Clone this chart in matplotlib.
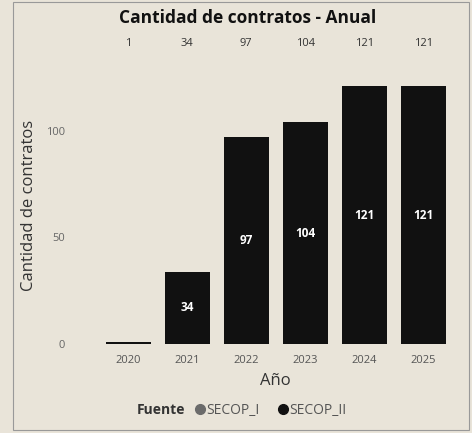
import matplotlib.pyplot as plt
from matplotlib.lines import Line2D
from matplotlib.patches import Rectangle
import numpy as np

# Datos del gráfico
anios = ['2020', '2021', '2022', '2023', '2024', '2025']
secop_i = [0, 0, 0, 0, 0, 0]
secop_ii = [1, 34, 97, 104, 121, 121]
totales = [a + b for a, b in zip(secop_i, secop_ii)]
fuentes = ['SECOP_I', 'SECOP_II']
colores = ['#6b6b6b', '#111111']

plt.rcParams['font.family'] = ['Open Sans', 'DejaVu Sans']
fondo = '#e9e4d9'

fig = plt.figure(figsize=(4.72, 4.33), dpi=100, facecolor=fondo)
ax = fig.add_axes([0.209, 0.2055, 0.75, 0.655], facecolor=fondo)

x = np.arange(len(anios))
ax.bar(x, secop_i, width=0.76, color=colores[0])
ax.bar(x, secop_ii, width=0.76, bottom=secop_i, color=colores[1])

# etiquetas dentro de las barras
for xi, v in zip(x, secop_ii):
    if v >= 10:
        ax.text(xi, v / 2, str(v), ha='center', va='center', color='white',
                fontsize=8.5, fontweight='bold')

# totales arriba del área de trazado
for xi, t in zip(x, totales):
    ax.text(xi, 1.06, str(t), transform=ax.get_xaxis_transform(),
            ha='center', va='center', fontsize=8, color='#333333')

ax.set_xlim(-0.5, len(anios) - 0.5)
ax.set_ylim(0, 133)
ax.set_xticks(x)
ax.set_xticklabels(anios, fontsize=8, color='#555555')
ax.set_yticks([0, 50, 100])
ax.set_yticklabels(['0', '50', '100'], fontsize=8, color='#666666')
ax.tick_params(axis='x', length=0, pad=8)
ax.tick_params(axis='y', length=0, pad=24)
for s in ax.spines.values():
    s.set_visible(False)

ax.set_xlabel('Año', fontsize=12, color='#333333', labelpad=5)
ax.set_ylabel('Cantidad de contratos', fontsize=12, color='#333333')
ax.yaxis.set_label_coords(-0.175, 0.49)

fig.text(0.525, 0.958, 'Cantidad de contratos - Anual', ha='center', va='center',
         fontsize=12.5, fontweight='bold', color='#111111')

# leyenda
fig.text(0.29, 0.052, 'Fuente', ha='left', va='center', fontsize=10,
         fontweight='bold', color='#333333')
handles = [Line2D([], [], marker='o', linestyle='', markersize=7, color=c) for c in colores]
fig.legend(handles=handles, labels=fuentes, loc='center left',
           bbox_to_anchor=(0.415, 0.052), ncol=2, frameon=False, fontsize=10,
           handlelength=0.6, handletextpad=0.15, columnspacing=1.4,
           labelcolor='#555555', borderaxespad=0, borderpad=0)

fig.patches.append(Rectangle((0.028, 0.006), 0.966, 0.99, transform=fig.transFigure,
                             fill=False, edgecolor='#999999', linewidth=0.8))

fig.savefig('out.png', dpi=100, facecolor=fondo)
